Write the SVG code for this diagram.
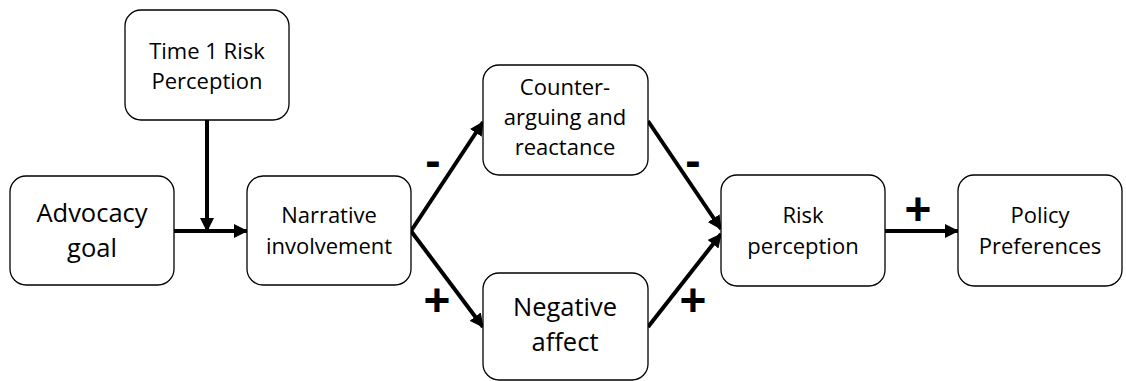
<svg xmlns="http://www.w3.org/2000/svg" width="1126" height="381" viewBox="0 0 1126 381">
<style>
.box{fill:#fff;stroke:#000;stroke-width:1.3}
.t{font-family:"Open Sans","Liberation Sans",sans-serif;font-size:22px;fill:#000;text-anchor:middle}
.tl{font-size:25.5px}
.sign{font-family:"Liberation Sans",Arial,sans-serif;font-weight:bold;font-size:46px;text-anchor:middle;fill:#000}
.c{stroke:#000;stroke-width:4;fill:none;marker-end:url(#ah)}
</style>
<defs>
<marker id="ah" markerUnits="userSpaceOnUse" markerWidth="14" markerHeight="14" refX="13" refY="7" orient="auto">
<path d="M0,0 L14,7 L0,14 Z" fill="#000"/>
</marker>
</defs>
<rect width="1126" height="381" fill="#fff"/>
<g id="connectors">
<line class="c" x1="174" y1="231" x2="247" y2="231"/>
<line class="c" x1="207" y1="120" x2="207" y2="231"/>
<line class="c" x1="411" y1="231" x2="483" y2="122"/>
<line class="c" x1="411" y1="231" x2="483" y2="327"/>
<line class="c" x1="648" y1="121" x2="721" y2="229"/>
<line class="c" x1="648" y1="327" x2="721" y2="234"/>
<line class="c" x1="885" y1="231" x2="958" y2="231"/>
</g>
<g id="signs">
<text class="sign" x="433" y="176">-</text>
<text class="sign" x="437" y="316">+</text>
<text class="sign" x="693" y="176">-</text>
<text class="sign" x="693" y="316">+</text>
<text class="sign" x="918" y="225">+</text>
</g>
<g id="time1">
<rect class="box" x="125" y="10" width="164" height="110" rx="16"/>
<text class="t" x="207" y="59">Time 1 Risk</text>
<text class="t" x="207" y="89">Perception</text>
</g>
<g id="advocacy">
<rect class="box" x="10" y="176" width="164" height="109" rx="16"/>
<text class="t tl" x="92" y="222">Advocacy</text>
<text class="t tl" x="92" y="257">goal</text>
</g>
<g id="narrative">
<rect class="box" x="247" y="176" width="164" height="109" rx="16"/>
<text class="t" x="329" y="223">Narrative</text>
<text class="t" x="329" y="254">involvement</text>
</g>
<g id="counter">
<rect class="box" x="483" y="65" width="165" height="110" rx="16"/>
<text class="t" x="565" y="95">Counter-</text>
<text class="t" x="565" y="125">arguing and</text>
<text class="t" x="565" y="155">reactance</text>
</g>
<g id="negative">
<rect class="box" x="483" y="273" width="165" height="107" rx="16"/>
<text class="t tl" x="565" y="316">Negative</text>
<text class="t tl" x="565" y="351">affect</text>
</g>
<g id="risk">
<rect class="box" x="721" y="175" width="164" height="111" rx="16"/>
<text class="t" x="803" y="223">Risk</text>
<text class="t" x="803" y="254">perception</text>
</g>
<g id="policy">
<rect class="box" x="958" y="175" width="164" height="111" rx="16"/>
<text class="t" x="1040" y="223">Policy</text>
<text class="t" x="1040" y="254">Preferences</text>
</g>
</svg>
